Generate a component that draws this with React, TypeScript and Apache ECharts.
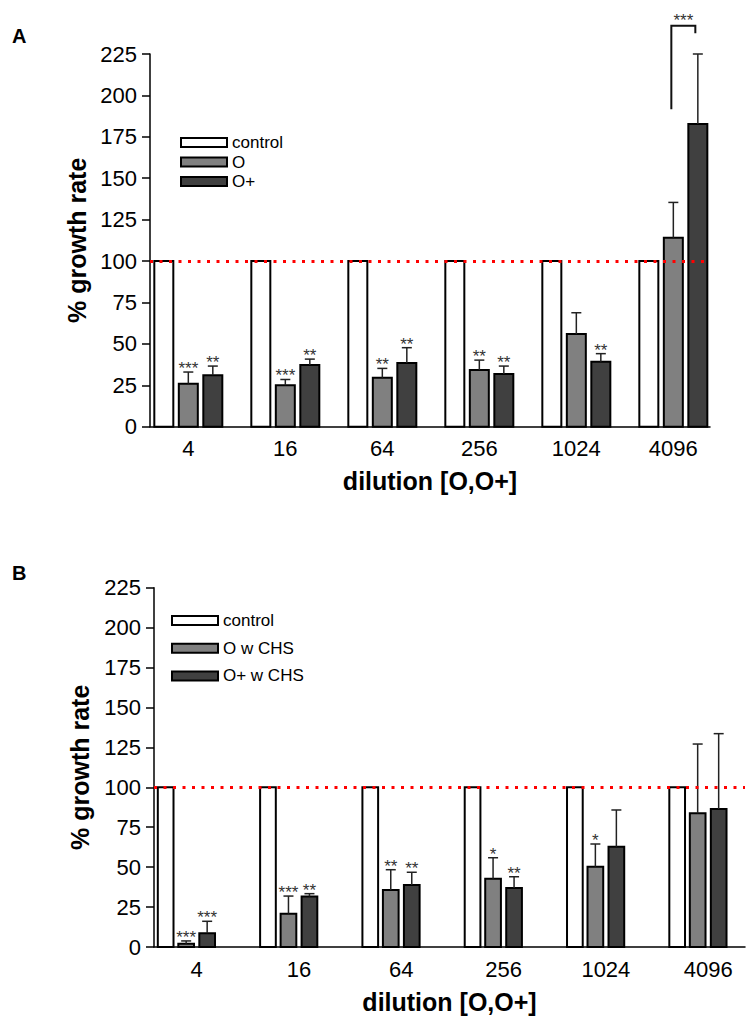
import React, { useEffect, useRef } from "react";
import * as echarts from "echarts";

const CATEGORIES = ["4", "16", "64", "256", "1024", "4096"];
const Y_MAX = 225;
const Y_INTERVAL = 25;

// Panel A
const A_CONTROL = [100, 100, 100, 100, 100, 100];
const A_O = [26, 25, 29.6, 34.2, 55.9, 114.1];
const A_O_ERR = [7, 3.5, 5.6, 6, 12.9, 21.3];
const A_O_SIG = ["***", "***", "**", "**", "", ""];
const A_OP = [31, 37.2, 38.4, 31.8, 39.2, 182.7];
const A_OP_ERR = [5.6, 3.6, 9.3, 4.8, 4.9, 42.3];
const A_OP_SIG = ["**", "**", "**", "**", "**", ""];
// significance bracket in A: [category, left leg bottom, top, right leg bottom]
const A_BRACKET = [5, 191.7, 242, 237.6];
const A_BRACKET_SIG = "***";

// Panel B
const B_CONTROL = [100, 100, 100, 100, 100, 100];
const B_O = [2.1, 20.9, 35.7, 42.8, 50.3, 83.7];
const B_O_ERR = [1.7, 11, 12.7, 13.1, 14.2, 43.4];
const B_O_SIG = ["***", "***", "**", "*", "*", ""];
const B_OP = [8.6, 31.7, 38.8, 36.9, 62.8, 86.4];
const B_OP_ERR = [7.5, 1.7, 8, 7.1, 23, 47.2];
const B_OP_SIG = ["***", "**", "**", "**", "", ""];

const FONT = "Liberation Sans, Arial, sans-serif";
const WHITE = "#ffffff";
const GREY = "#808080";
const DARK = "#404040";

function barSeries(
  name: string,
  gridIdx: number,
  values: number[],
  errs: number[] | null,
  sigs: string[] | null,
  offset: number,
  width: number,
  fill: string,
  withRefLine: boolean
): any {
  const s: any = {
    type: "custom",
    name,
    xAxisIndex: gridIdx,
    yAxisIndex: gridIdx,
    itemStyle: { color: fill, borderColor: "#000", borderWidth: 2 },
    data: values.map((v, i) => [i, v, errs ? errs[i] : 0]),
    z: 2,
    renderItem: (params: any, api: any) => {
      const idx = api.value(0);
      const val = api.value(1);
      const err = api.value(2);
      const base = api.coord([idx, 0]);
      const top = api.coord([idx, val]);
      const cx = base[0] + offset;
      const children: any[] = [
        {
          type: "rect",
          shape: { x: cx - width / 2, y: top[1], width, height: base[1] - top[1] },
          style: { fill, stroke: "#000", lineWidth: 2 },
        },
      ];
      let textY = top[1];
      if (err > 0) {
        const eVal = Math.min(val + err, Y_MAX);
        const ep = api.coord([idx, eVal]);
        children.push({
          type: "line",
          shape: { x1: cx, y1: top[1], x2: cx, y2: ep[1] },
          style: { stroke: "#222", lineWidth: 1.5 },
        });
        if (val + err <= Y_MAX) {
          children.push({
            type: "line",
            shape: { x1: cx - 5, y1: ep[1], x2: cx + 5, y2: ep[1] },
            style: { stroke: "#222", lineWidth: 1.5 },
          });
        }
        textY = ep[1];
      }
      const sig = sigs ? sigs[params.dataIndex] : "";
      if (sig) {
        children.push({
          type: "text",
          x: cx,
          y: textY + 5,
          style: {
            text: sig,
            fill: "#333",
            font: `17px ${FONT}`,
            align: "center",
            verticalAlign: "bottom",
          },
        });
      }
      return { type: "group", children };
    },
  };
  if (withRefLine) {
    s.markLine = {
      silent: true,
      symbol: "none",
      label: { show: false },
      lineStyle: { color: "#ff0000", type: [3, 6.5], width: 3 },
      data: [{ yAxis: 100 }],
      animation: false,
    };
  }
  return s;
}

function bracketSeries(offL: number, offR: number): any {
  return {
    type: "custom",
    name: "bracket",
    xAxisIndex: 0,
    yAxisIndex: 0,
    clip: false,
    data: [A_BRACKET],
    z: 3,
    renderItem: (params: any, api: any) => {
      const c = api.value(0);
      const base = api.coord([c, 0]);
      const xL = base[0] + offL - 2;
      const xR = base[0] + offR - 2.5;
      const yL = api.coord([c, api.value(1)])[1];
      const yT = api.coord([c, api.value(2)])[1];
      const yR = api.coord([c, api.value(3)])[1];
      return {
        type: "group",
        children: [
          {
            type: "polyline",
            shape: { points: [[xL, yL], [xL, yT], [xR, yT], [xR, yR]] },
            style: { stroke: "#111", lineWidth: 2, fill: "none" },
          },
          {
            type: "text",
            x: (xL + xR) / 2,
            y: yT + 3,
            style: {
              text: A_BRACKET_SIG,
              fill: "#333",
              font: `17px ${FONT}`,
              align: "center",
              verticalAlign: "bottom",
            },
          },
        ],
      };
    },
  };
}

function yAxis(gridIndex: number, nameGap: number): any {
  return {
    type: "value",
    gridIndex,
    min: 0,
    max: Y_MAX,
    interval: Y_INTERVAL,
    name: "% growth rate",
    nameLocation: "middle",
    nameGap,
    nameTextStyle: { fontSize: 25, fontWeight: "bold", color: "#000", fontFamily: FONT },
    axisLine: { show: true, onZero: false, lineStyle: { color: "#000", width: 1.5 } },
    axisTick: { show: true, length: 8, lineStyle: { color: "#000", width: 1.5 } },
    axisLabel: { fontSize: 22, color: "#000", fontFamily: FONT, margin: 13 },
    splitLine: { show: false },
  };
}

function xAxis(gridIndex: number, min: number, max: number): any {
  return {
    type: "value",
    gridIndex,
    min,
    max,
    name: "dilution [O,O+]",
    nameLocation: "middle",
    nameGap: 42,
    nameTextStyle: { fontSize: 25, fontWeight: "bold", color: "#000", fontFamily: FONT },
    axisLine: { show: true, onZero: false, lineStyle: { color: "#000", width: 1.5 } },
    axisTick: { show: false },
    axisLabel: {
      fontSize: 22,
      color: "#000",
      fontFamily: FONT,
      margin: 11,
      customValues: CATEGORIES.map((_, i) => i),
      formatter: (v: number) => CATEGORIES[Math.round(v)] ?? "",
    },
    splitLine: { show: false },
  };
}

function legend(left: number, top: number, gap: number, names: string[]): any {
  const fills = [WHITE, GREY, DARK];
  return {
    orient: "vertical",
    left,
    top,
    padding: 0,
    itemWidth: 46,
    itemHeight: 9,
    itemGap: gap,
    icon: "rect",
    selectedMode: false,
    textStyle: { fontSize: 17, color: "#000", fontFamily: FONT, lineHeight: 17 },
    data: names.map((n, i) => ({
      name: n,
      icon: "rect",
      itemStyle: { color: fills[i], borderColor: "#000", borderWidth: 2 },
    })),
  };
}

export default function App() {
  const ref = useRef<HTMLDivElement>(null);
  useEffect(() => {
    if (!ref.current) return;
    const chart = echarts.init(ref.current, undefined, { renderer: "svg" });
    const aOff = [-24.5, 0, 24.5];
    const aW = 19;
    const bOff = [-31, -10.5, 10.5];
    const bW = 15.7;
    chart.setOption({
      animation: false,
      backgroundColor: "#fff",
      title: [
        { text: "A", left: 12, top: 26, padding: 0, textStyle: { fontSize: 20, fontWeight: "bold", color: "#000", fontFamily: FONT } },
        { text: "B", left: 12, top: 563, padding: 0, textStyle: { fontSize: 20, fontWeight: "bold", color: "#000", fontFamily: FONT } },
      ],
      legend: [
        legend(180, 134, 2.5, ["control", "O", "O+"]),
        legend(171, 612, 10.7, ["control", "O w CHS", "O+ w CHS"]),
      ],
      grid: [
        { left: 150, top: 54, width: 560, height: 372.7 },
        { left: 154, top: 587.7, width: 591, height: 359.3 },
      ],
      xAxis: [xAxis(0, -0.395, 5.378), xAxis(1, -0.417, 5.36)],
      yAxis: [yAxis(0, 58), yAxis(1, 62)],
      series: [
        barSeries("control", 0, A_CONTROL, null, null, aOff[0], aW, WHITE, false),
        barSeries("O", 0, A_O, A_O_ERR, A_O_SIG, aOff[1], aW, GREY, false),
        barSeries("O+", 0, A_OP, A_OP_ERR, A_OP_SIG, aOff[2], aW, DARK, true),
        bracketSeries(aOff[1], aOff[2]),
        barSeries("control", 1, B_CONTROL, null, null, bOff[0], bW, WHITE, false),
        barSeries("O w CHS", 1, B_O, B_O_ERR, B_O_SIG, bOff[1], bW, GREY, false),
        barSeries("O+ w CHS", 1, B_OP, B_OP_ERR, B_OP_SIG, bOff[2], bW, DARK, true),
      ],
    });
    return () => chart.dispose();
  }, []);
  return (
    <div
      ref={ref}
      style={{ position: "absolute", left: 0, top: 0, width: 747, height: 1017, background: "#fff" }}
    />
  );
}
